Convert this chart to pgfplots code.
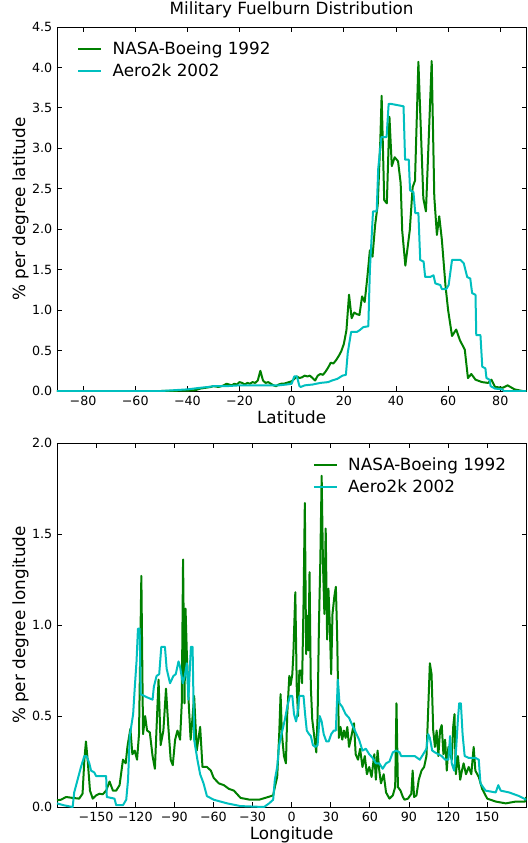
\documentclass[border=0pt]{standalone}
\usepackage{pgfplots}
\usepackage{pgfplotstable}
\pgfplotsset{compat=1.18}
\usepackage{fontspec}
\setmainfont{DejaVu Sans}
\definecolor{mplgreen}{rgb}{0,0.5,0}
\definecolor{mplcyan}{rgb}{0,0.75,0.75}

\pgfplotstableread{
x y
-90 0
-50 0
-40 0.005
-37 0.01
-35 0.03
-33 0.04
-31 0.05
-30 0.06
-28 0.05
-26 0.07
-25 0.09
-24 0.08
-23 0.07
-22 0.09
-21 0.08
-20 0.11
-19 0.10
-18 0.08
-17 0.10
-16 0.09
-15 0.11
-14 0.10
-13 0.13
-12 0.25
-11 0.13
-10 0.10
-9 0.11
-8 0.09
-7 0.07
-6 0.06
-5 0.08
-4 0.09
-3 0.09
-2 0.10
-1 0.11
0 0.12
1 0.15
2 0.18
3 0.16
4 0.17
5 0.19
6 0.18
7 0.19
8 0.16
9 0.13
10 0.19
11 0.21
12 0.20
13 0.24
14 0.29
15 0.35
16 0.34
17 0.38
18 0.43
19 0.49
20 0.58
21 0.75
22 1.19
23 0.90
24 0.97
25 0.95
26 0.94
27 1.17
28 1.10
29 1.40
30 1.74
31 1.66
32 2.05
33 2.30
34 3.10
34.5 3.65
35.5 2.36
36.5 2.32
37.5 3.39
38.4 2.78
39.5 2.89
40.8 2.84
41.8 2.57
42.4 1.98
43.6 1.55
45.3 1.99
46.4 2.52
47.3 2.60
48.6 4.07
50.5 2.38
51.5 2.22
53.7 4.08
54.7 2.40
55.7 1.93
56.6 2.16
57.6 1.87
59 1.30
60 1.00
61.5 0.68
63.1 0.76
64.5 0.63
66.4 0.51
67.6 0.16
68.9 0.21
70.5 0.14
73 0.11
75.3 0.10
76.6 0.14
78 0.05
81 0.04
82.8 0.07
85.5 0.02
88.5 0
90 0
}\latgreen

\pgfplotstableread{
x y
-90 0
-50 0
-45 0.01
-40 0.02
-35 0.04
-32 0.05
-30 0.06
-25 0.06
-20 0.07
-10 0.07
-5 0.07
-2 0.08
0 0.09
1 0.18
2 0.18
3 0.06
3.5 0.05
5 0.07
8 0.08
11 0.10
14 0.11
15.5 0.13
17.5 0.15
19.5 0.19
20.8 0.20
21.5 0.47
22.8 0.73
25 0.73
26 0.75
27.5 0.79
29.4 0.80
30 1.5
31.2 2.22
32.6 2.22
33.2 2.75
34.4 3.14
36.4 3.14
37.2 3.55
38 3.55
42.9 3.52
43.5 2.86
44.9 2.86
45.4 2.48
46.7 2.46
47.4 2.20
48.6 2.20
49.3 1.62
50.6 1.60
51.2 1.41
53.1 1.41
54.4 1.43
55.1 1.33
57.0 1.31
57.6 1.26
59.3 1.26
60.2 1.31
61.5 1.62
64.7 1.62
66.0 1.58
67.3 1.41
68.5 1.39
69.2 1.21
70.5 1.19
70.8 0.69
72.4 0.69
73.1 0.30
74.3 0.28
74.7 0.16
75.9 0.14
76.3 0.06
78 0.03
80.8 0.02
81.4 0
90 0
}\latcyan

\pgfplotstableread{
x y
-180 0.037
-177 0.04
-173 0.055
-168 0.05
-163 0.046
-160.4 0.073
-159 0.26
-157.8 0.36
-156.5 0.26
-154.7 0.09
-152.6 0.046
-150 0.064
-147.5 0.073
-144.9 0.07
-142.3 0.09
-139.7 0.14
-137.1 0.09
-134.6 0.09
-132 0.12
-129.4 0.26
-127.3 0.24
-126 0.33
-123.7 0.43
-122.2 0.29
-120.4 0.31
-118.6 0.26
-117.1 0.40
-115.3 1.27
-114 0.40
-112.4 0.50
-110.9 0.42
-108.8 0.41
-106.7 0.28
-104.9 0.21
-103.6 0.44
-102.1 0.70
-100.5 0.34
-98.4 0.42
-96.4 0.65
-94.6 0.44
-92.8 0.26
-91.2 0.23
-89.4 0.37
-87.6 0.42
-85.6 0.37
-84.3 0.57
-83.3 1.36
-82.2 0.57
-81.4 1.09
-80.4 0.84
-78.9 0.56
-77.5 0.37
-76.5 0.45
-74.8 0.61
-72.8 0.31
-70.2 0.44
-68.4 0.22
-65 0.22
-62 0.20
-59.8 0.16
-55.9 0.13
-52 0.12
-48.2 0.10
-44.3 0.09
-39.2 0.05
-32 0.04
-25 0.04
-18 0.055
-14.2 0.064
-12.9 0.11
-11.1 0.165
-9.6 0.39
-8.5 0.62
-7.5 0.40
-5.9 0.28
-4.4 0.24
-3.4 0.51
-1.8 0.72
-0.8 0.67
0.5 0.73
1.3 0.84
2.8 1.18
3.9 0.66
4.9 0.50
5.9 0.75
7.2 0.75
8 0.68
9.1 1.12
10.1 1.67
11.1 0.84
11.9 1.05
12.9 0.86
13.7 1.29
14.7 0.66
15.8 0.48
17.3 0.39
18.9 0.30
19.9 0.50
20.9 0.99
22 1.36
23 1.82
24 1.34
25.1 1.06
26.1 1.53
27.2 0.92
28.2 1.20
29.2 1.01
30.3 0.73
31.3 1.06
32.8 1.16
33.9 1.21
34.9 0.94
36.2 0.38
37.5 0.44
38.8 0.37
40.1 0.42
41.4 0.38
42.7 0.44
44 0.33
45.3 0.37
47.8 0.46
49.1 0.29
50.9 0.26
52.5 0.32
54.3 0.22
56.1 0.28
57.7 0.18
59.5 0.22
61.3 0.165
63.4 0.29
64.6 0.15
65.9 0.31
67.2 0.20
68.5 0.13
70.6 0.18
72.4 0.08
75 0.046
77.6 0.064
79.4 0.11
80.4 0.57
81.5 0.11
83.5 0.09
85.3 0.055
86.6 0.04
89.2 0.046
91.8 0.073
92.8 0.20
93.9 0.055
95.7 0.064
97.5 0.15
99.6 0.20
101.6 0.22
103.4 0.28
104.7 0.53
106 0.79
107.3 0.73
108.6 0.42
109.9 0.33
111.2 0.42
112.5 0.28
113.8 0.42
115.1 0.45
116.4 0.29
117.7 0.37
119 0.20
120.2 0.33
121.5 0.29
122.8 0.26
123.9 0.44
124.9 0.51
125.9 0.18
127.5 0.28
129.3 0.15
130.6 0.20
131.9 0.24
133.7 0.18
135.8 0.22
137.8 0.18
139.6 0.33
140.9 0.20
143.5 0.165
146.1 0.10
150 0.046
156.5 0.03
164.2 0.02
172 0.03
179 0.03
180 0.055
}\longreen

\pgfplotstableread{
x y
-180 0.02
-175 0.01
-168 0
-166.8 0.08
-164.2 0.15
-161.6 0.22
-159 0.28
-157.3 0.28
-155.2 0.24
-153.9 0.20
-151.4 0.19
-150 0.17
-142.3 0.17
-141.8 0.055
-135.9 0.046
-134.6 0.01
-129.4 0.01
-126.9 0.04
-125.5 0.15
-124.2 0.39
-121.6 0.51
-120.4 0.65
-119 0.80
-117.9 0.98
-116.6 0.98
-115.8 0.62
-113 0.61
-110.1 0.60
-106.7 0.59
-105.7 0.66
-103.6 0.72
-101.6 0.73
-100 0.88
-97.2 0.88
-95.9 0.76
-93.3 0.68
-90.7 0.72
-88.9 0.73
-86.8 0.80
-85.6 0.77
-83.5 0.68
-82 0.72
-80.4 0.79
-79.2 0.59
-77.3 0.88
-76 0.88
-74.8 0.37
-72.3 0.26
-70.2 0.18
-67.6 0.13
-65 0.06
-59.8 0.04
-49.5 0.02
-39.2 0.005
-21.2 0
-17.3 0.02
-14.2 0.04
-12.9 0.15
-11.1 0.22
-9.6 0.34
-7.8 0.40
-5.2 0.48
-3.4 0.55
-1.3 0.61
0.5 0.61
1.8 0.51
3.4 0.47
4.4 0.51
5.9 0.61
9.1 0.61
10.3 0.51
11.6 0.42
13.4 0.40
14.7 0.39
16.3 0.34
18.1 0.33
19.9 0.34
21.5 0.50
23 0.47
24.6 0.40
26.6 0.36
28.4 0.36
30.3 0.40
32.3 0.42
33.9 0.42
35.4 0.70
36.7 0.57
38.8 0.55
41.4 0.51
44 0.49
46.5 0.45
49.1 0.41
51.7 0.37
54.3 0.31
56.9 0.32
59.5 0.29
62.1 0.27
64.6 0.24
67.2 0.24
69.8 0.21
72.4 0.24
75 0.25
77.6 0.30
80.2 0.31
82.8 0.30
84 0.28
89.2 0.28
94.4 0.28
98.3 0.26
100.9 0.29
103.4 0.32
104.7 0.40
106 0.38
107.8 0.31
109.9 0.30
112.5 0.29
115.1 0.28
117.7 0.26
120.2 0.26
121.5 0.39
122.8 0.24
124.6 0.20
125.9 0.29
127.5 0.48
128.5 0.57
129.8 0.57
131.1 0.40
132.7 0.28
135.8 0.27
140.9 0.27
143.5 0.26
144.8 0.13
148.7 0.09
156.5 0.08
158.5 0.12
160.3 0.09
166.8 0.08
174.5 0.06
180 0.04
}\loncyan

\pgfplotsset{
  mplstyle/.style={
    scale only axis,
    width=352pt, height=273pt,
    axis line style={black, line width=0.7pt},
    tick align=inside,
    major tick length=3.5pt,
    tick style={black, line width=0.6pt},
    minor tick num=0,
    tick label style={font=\fontsize{9.5}{11}\selectfont},
    label style={font=\fontsize{12.6}{15}\selectfont},
    title style={font=\fontsize{12.6}{15}\selectfont, at={(axis description cs:0.5,1.0128)}, anchor=base},
    xlabel style={at={(axis description cs:0.5,-0.088)}, anchor=base},
    ylabel style={at={(axis description cs:-0.068,0.5)}, anchor=base, rotate=0},
    yticklabel style={/pgf/number format/.cd, fixed, fixed zerofill, precision=1, assume math mode=true},
    legend style={draw=none, fill=none, font=\fontsize{12.6}{15}\selectfont,
      /tikz/every odd column/.append style={column sep=6pt},
      row sep=1.5pt},
    legend cell align=left,
    every axis plot/.append style={line width=1.5pt, line join=round},
  }
}

\begin{document}
\begin{tikzpicture}
\begin{axis}[mplstyle,
  at={(0pt,0pt)}, anchor=south west,
  xmin=-90, xmax=90, ymin=0, ymax=4.5,
  xtick={-80,-60,-40,-20,0,20,40,60,80},
  xticklabels={−80,−60,−40,−20,0,20,40,60,80},
  ytick={0,0.5,1,1.5,2,2.5,3,3.5,4,4.5},
  title={Military Fuelburn Distribution},
  xlabel={Latitude},
  ylabel={\% per degree latitude},
  legend style={at={(axis description cs:0,1)}, anchor=north west, xshift=12pt, yshift=-6.5pt},
]
\addplot[mplgreen] table[x=x,y=y] {\latgreen};
\addlegendentry{NASA-Boeing 1992}
\addplot[mplcyan] table[x=x,y=y] {\latcyan};
\addlegendentry{Aero2k 2002}
\end{axis}

\begin{axis}[mplstyle,
  at={(0pt,-312pt)}, anchor=south west,
  xmin=-180, xmax=180, ymin=0, ymax=2,
  xtick={-150,-120,-90,-60,-30,0,30,60,90,120,150},
  xticklabels={−150,−120,−90,−60,−30,0,30,60,90,120,150},
  ytick={0,0.5,1,1.5,2},
  xlabel={Longitude},
  ylabel={\% per degree longitude},
  legend style={at={(axis description cs:1,1)}, anchor=north east, xshift=-10pt, yshift=-6.5pt},
]
\addplot[mplgreen] table[x=x,y=y] {\longreen};
\addlegendentry{NASA-Boeing 1992}
\addplot[mplcyan] table[x=x,y=y] {\loncyan};
\addlegendentry{Aero2k 2002}
\end{axis}

\pgfresetboundingbox
\path[use as bounding box] (-42.75pt,-339pt) rectangle (352.75pt,293.25pt);
\end{tikzpicture}
\end{document}
